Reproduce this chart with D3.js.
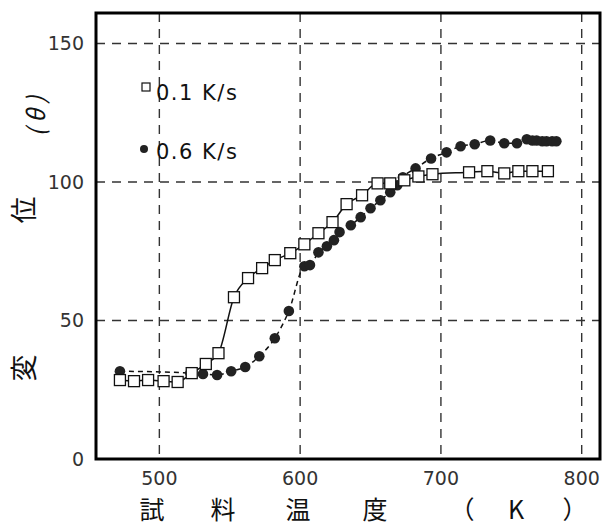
<!DOCTYPE html>
<html lang="ja">
<head>
<meta charset="UTF-8">
<title>変位 - 試料温度</title>
<script src="https://d3js.org/d3.v7.min.js"></script>
<style>
    body { margin: 0; background: #fff; }
    svg { display: block; font-family: "DejaVu Sans", sans-serif; }
    .grid line { stroke: #333; stroke-width: 1.4; stroke-dasharray: 9,7; }
    .tick-label { font-size: 19px; fill: #333; }
    .title { font-family: "Noto Sans CJK JP", sans-serif; font-size: 27px; fill: #111; }
    .legend-text { font-size: 21px; fill: #111; letter-spacing: 1.5px; }
</style>
</head>
<body>
<svg width="602" height="527"></svg>
<script>
// data: temperature (K) and displacement (θ)
const temp01 = [472, 482, 492, 503, 513, 523, 533, 542, 553, 563, 573, 582, 593, 603,
    613, 623, 633, 644, 655, 664, 674, 684, 694, 720, 733, 745, 755, 765, 776];
const disp01 = [28.5, 28.1, 28.5, 28.1, 27.8, 31, 34.3, 38.2, 58.4, 65.3, 68.9, 71.8, 74.3, 77.5,
    81.5, 85.5, 92, 95.2, 99.5, 99.5, 100.6, 102, 102.8, 103.5, 103.9, 103.1, 103.9, 103.9, 103.9];

const temp06 = [472, 522, 531, 541, 551, 561, 571, 582, 592, 603, 607, 613, 619, 624, 628,
    636, 643, 650, 657, 664, 669, 673, 682, 693, 704, 714, 724, 735, 745, 754, 761, 765,
    768, 772, 775, 779, 782];
const disp06 = [31.7, 31.0, 30.7, 30.3, 31.7, 33.2, 37.1, 43.6, 53.4, 69.6, 70, 74.6, 76.8, 79, 81.9,
    84.4, 87.3, 90.5, 93.4, 96.3, 98.8, 101.7, 104.9, 108.5, 110.7, 112.9, 113.6, 115, 114, 114, 115.4, 115,
    115, 114.7, 114.7, 114.7, 114.7];

const xTicks = [500, 600, 700, 800];
const yTicks = [0, 50, 100, 150];
const legendLabels = ["0.1 K/s", "0.6 K/s"];
const xTitle = ["試", "料", "温", "度", "（", "K", "）"];
const yTitle = ["変", "位", "( θ )"];

const svg = d3.select("svg");

// plot frame
const plotLeft = 96, plotRight = 600, plotTop = 13, plotBottom = 459;

const x = d3.scaleLinear().domain([455, 813]).range([plotLeft, plotRight]);
const y = d3.scaleLinear().domain([0, 161]).range([plotBottom, plotTop]);

// dashed grid
const grid = svg.append("g").attr("class", "grid");
grid.selectAll(".v")
    .data(xTicks)
    .enter().append("line")
    .attr("x1", d => x(d)).attr("x2", d => x(d))
    .attr("y1", plotTop).attr("y2", plotBottom);
grid.selectAll(".h")
    .data(yTicks.filter(d => d > 0))
    .enter().append("line")
    .attr("x1", plotLeft).attr("x2", plotRight)
    .attr("y1", d => y(d)).attr("y2", d => y(d));

// tick labels
svg.selectAll(".xl")
    .data(xTicks)
    .enter().append("text")
    .attr("class", "tick-label")
    .attr("x", d => x(d))
    .attr("y", plotBottom + 26)
    .attr("text-anchor", "middle")
    .text(d => d);

svg.selectAll(".yl")
    .data(yTicks)
    .enter().append("text")
    .attr("class", "tick-label")
    .attr("x", plotLeft - 12)
    .attr("y", d => y(d) + 7)
    .attr("text-anchor", "end")
    .text(d => d);

// lines
const pts01 = temp01.map((t, i) => [t, disp01[i]]);
const pts06 = temp06.map((t, i) => [t, disp06[i]]);

const line = d3.line()
    .x(d => x(d[0]))
    .y(d => y(d[1]))
    .curve(d3.curveMonotoneX);

svg.append("path")
    .datum(pts06)
    .attr("d", line)
    .attr("fill", "none")
    .attr("stroke", "#111")
    .attr("stroke-width", 1.5)
    .attr("stroke-dasharray", "5,4");

svg.append("path")
    .datum(pts01)
    .attr("d", line)
    .attr("fill", "none")
    .attr("stroke", "#111")
    .attr("stroke-width", 1.5);

// markers
svg.selectAll(".dot")
    .data(pts06)
    .enter().append("circle")
    .attr("cx", d => x(d[0]))
    .attr("cy", d => y(d[1]))
    .attr("r", 5.3)
    .attr("fill", "#222");

const sq = 11;
svg.selectAll(".sq")
    .data(pts01)
    .enter().append("rect")
    .attr("x", d => x(d[0]) - sq / 2)
    .attr("y", d => y(d[1]) - sq / 2)
    .attr("width", sq)
    .attr("height", sq)
    .attr("fill", "#fff")
    .attr("stroke", "#111")
    .attr("stroke-width", 1.3);

// frame
svg.append("rect")
    .attr("x", plotLeft).attr("y", plotTop)
    .attr("width", plotRight - plotLeft).attr("height", plotBottom - plotTop)
    .attr("fill", "none")
    .attr("stroke", "#000")
    .attr("stroke-width", 3);

// legend
const lg = svg.append("g").attr("transform", "translate(146,0)");
lg.append("rect")
    .attr("x", -4).attr("y", 83).attr("width", 8).attr("height", 8)
    .attr("fill", "#fff").attr("stroke", "#111").attr("stroke-width", 1.2);
lg.append("circle")
    .attr("cx", -2).attr("cy", 149).attr("r", 4).attr("fill", "#222");
lg.selectAll(".lt")
    .data(legendLabels)
    .enter().append("text")
    .attr("class", "legend-text")
    .attr("x", 10)
    .attr("y", (d, i) => 100 + i * 59)
    .text(d => d);

// axis titles
const xTitlePos = [152, 223, 298, 375, 462, 516, 575];
svg.selectAll(".xt")
    .data(xTitle)
    .enter().append("text")
    .attr("class", "title")
    .attr("x", (d, i) => xTitlePos[i])
    .attr("y", 519)
    .attr("text-anchor", "middle")
    .style("font-size", "25px")
    .text(d => d);

const yTitlePos = [368, 210, 116];
svg.selectAll(".yt")
    .data(yTitle)
    .enter().append("text")
    .attr("class", "title")
    .attr("transform", (d, i) => `translate(${i === 2 ? 45 : 34},${yTitlePos[i]}) rotate(-90)`)
    .attr("text-anchor", "middle")
    .style("font-size", (d, i) => i === 2 ? "24px" : null)
    .style("font-style", (d, i) => i === 2 ? "italic" : null)
    .text(d => d);
</script>
</body>
</html>
